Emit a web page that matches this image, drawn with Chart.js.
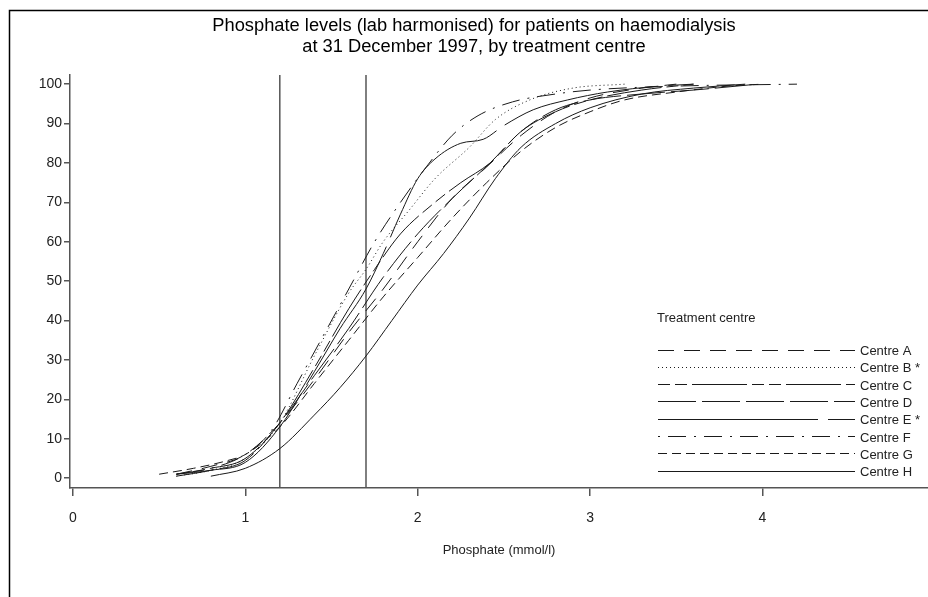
<!DOCTYPE html>
<html>
<head>
<meta charset="utf-8">
<title>Phosphate levels by treatment centre</title>
<script src="https://cdn.jsdelivr.net/npm/chart.js@4.4.0/dist/chart.umd.min.js"></script>
<style>
  html, body { margin: 0; padding: 0; background: #fff; }
  #wrap { width: 928px; height: 597px; position: relative; }
</style>
</head>
<body>
<div id="wrap"><canvas id="phosChart" width="928" height="597"></canvas></div>
<script>
// ---- data: phosphate (mmol/l) vs cumulative % of patients ----
const centreNames = ['Centre A', 'Centre B *', 'Centre C', 'Centre D', 'Centre E *', 'Centre F', 'Centre G', 'Centre H'];

const centreA_x = [0.6, 0.8, 1.0, 1.2, 1.4, 1.6, 1.8, 2.0, 2.2, 2.4, 2.6, 2.8, 3.0, 3.3, 3.5];
const centreA_y = [1, 3, 6, 14, 25, 37, 48, 60, 71, 79, 87, 93, 96.5, 99, 100];

const centreB_x = [0.6, 0.8, 1.0, 1.2, 1.4, 1.6, 1.7, 1.8, 1.95, 2.1, 2.3, 2.45, 2.65, 2.9, 3.2];
const centreB_y = [0.5, 2, 5, 14, 31, 47, 53, 60, 68, 76, 84, 91, 96, 99, 100];

const centreC_x = [0.6, 0.8, 1.0, 1.2, 1.4, 1.6, 1.75, 1.9, 2.1, 2.25, 2.42, 2.6, 2.8, 3.0, 3.3, 3.6];
const centreC_y = [1, 2.5, 5, 14, 28, 43, 53, 62, 70, 75, 80, 88, 93, 96, 98.5, 100];

const centreD_x = [0.6, 0.8, 1.0, 1.2, 1.4, 1.6, 1.8, 2.0, 2.2, 2.42, 2.6, 2.8, 3.0, 3.3, 3.6, 3.97];
const centreD_y = [0.5, 2, 4.5, 14, 26, 38, 51, 62, 71, 80, 88, 93.5, 96, 97.5, 98.5, 100];

const centreE_x = [0.6, 0.8, 1.0, 1.2, 1.4, 1.55, 1.7, 1.8, 1.9, 2.0, 2.1, 2.25, 2.38, 2.5, 2.67, 2.87, 3.1, 3.4, 3.6];
const centreE_y = [1, 2, 4, 13, 27, 38, 48, 57, 67, 76, 81, 85, 86, 89.5, 93.5, 96, 98, 99.5, 100];

const centreF_x = [0.6, 0.8, 1.0, 1.15, 1.3, 1.45, 1.6, 1.75, 1.9, 2.05, 2.2, 2.35, 2.55, 2.8, 3.0, 3.5, 4.2];
const centreF_y = [1, 2.5, 6, 12, 24, 36, 48, 60, 70, 79, 87, 92, 95.5, 97.5, 98.5, 99.5, 100];

const centreG_x = [0.5, 0.7, 0.9, 1.0, 1.2, 1.4, 1.6, 1.8, 2.0, 2.2, 2.4, 2.6, 2.8, 3.0, 3.2, 3.5, 3.8, 4.0];
const centreG_y = [1, 2.5, 4.5, 6, 13, 24, 35, 46, 56, 66, 75, 83, 89, 93, 96, 98, 99.5, 100];

const centreH_x = [0.8, 1.0, 1.2, 1.4, 1.55, 1.7, 1.85, 2.0, 2.15, 2.3, 2.45, 2.6, 2.8, 3.0, 3.3, 3.6, 3.9];
const centreH_y = [0.5, 2.5, 7.5, 16, 23, 31, 40, 49, 57, 66, 76, 84, 90, 94, 97.5, 99, 100];

// reference lines (mmol/l)
const refLines = [1.2, 1.7];

const xTicks = [0, 1, 2, 3, 4];
const yTicks = [0, 10, 20, 30, 40, 50, 60, 70, 80, 90, 100];

// line patterns for each centre
const dashes = [
  [16, 10],
  [1, 3],
  [12, 5, 12, 5, 55, 5],
  [38, 6],
  [160, 10],
  [2, 8, 18, 8],
  [9, 5],
  []
];

const allX = [centreA_x, centreB_x, centreC_x, centreD_x, centreE_x, centreF_x, centreG_x, centreH_x];
const allY = [centreA_y, centreB_y, centreC_y, centreD_y, centreE_y, centreF_y, centreG_y, centreH_y];

const X_MIN = -0.017, X_MAX = 4.96;
const Y_MIN = -2.5, Y_MAX = 102.3;

const fontFam = '"Liberation Sans", Arial, Helvetica, sans-serif';

function toPoints(xs, ys) {
  return xs.map((x, i) => ({ x: x, y: ys[i] }));
}

const datasets = centreNames.map((name, i) => ({
  label: name,
  data: toPoints(allX[i], allY[i]),
  borderColor: '#1a1a1a',
  borderWidth: 1,
  borderDash: dashes[i],
  pointRadius: 0,
  fill: false,
  cubicInterpolationMode: 'monotone'
}));

refLines.forEach(v => {
  datasets.push({
    label: 'ref',
    data: [{ x: v, y: Y_MIN }, { x: v, y: Y_MAX }],
    borderColor: '#555',
    borderWidth: 1.5,
    pointRadius: 0,
    fill: false
  });
});

// white page + thin frame (left and top edge)
const framePlugin = {
  id: 'frame',
  beforeDraw(chart) {
    const ctx = chart.ctx;
    ctx.save();
    ctx.fillStyle = '#fff';
    ctx.fillRect(0, 0, chart.width, chart.height);
    ctx.strokeStyle = '#000';
    ctx.lineWidth = 1.5;
    ctx.beginPath();
    ctx.moveTo(9.5, chart.height);
    ctx.lineTo(9.5, 10.5);
    ctx.lineTo(chart.width, 10.5);
    ctx.stroke();
    ctx.restore();
  }
};

// legend box in the lower right: "Treatment centre" with a line sample per centre
const centreLegend = {
  id: 'centreLegend',
  afterDraw(chart) {
    const ctx = chart.ctx;
    ctx.save();
    ctx.fillStyle = '#222';
    ctx.textBaseline = 'middle';
    ctx.font = '13px ' + fontFam;
    ctx.fillText('Treatment centre', 657, 318);
    for (let i = 0; i < centreNames.length; i++) {
      const ds = chart.data.datasets[i];
      const y = 349.5 + i * 17.3;
      ctx.strokeStyle = ds.borderColor;
      ctx.lineWidth = 1;
      ctx.setLineDash(ds.borderDash);
      ctx.beginPath();
      ctx.moveTo(658, Math.round(y) + 0.5);
      ctx.lineTo(855, Math.round(y) + 0.5);
      ctx.stroke();
      ctx.setLineDash([]);
      ctx.fillText(centreNames[i], 860, y + 2);
    }
    ctx.restore();
  }
};

const chart = new Chart(document.getElementById('phosChart'), {
  type: 'line',
  data: { datasets: datasets },
  plugins: [framePlugin, centreLegend],
  options: {
    responsive: false,
    animation: false,
    devicePixelRatio: 1,
    layout: { padding: { left: 20, right: 0, top: 0, bottom: 0 } },
    plugins: {
      legend: { display: false },
      tooltip: { enabled: false },
      title: {
        display: true,
        text: ['Phosphate levels (lab harmonised) for patients on haemodialysis',
               'at 31 December 1997, by treatment centre'],
        color: '#000',
        font: { family: fontFam, size: 18.3, weight: 'normal', lineHeight: 1.15 },
        padding: { top: 15, bottom: 18 }
      }
    },
    scales: {
      x: {
        type: 'linear',
        min: X_MIN,
        max: X_MAX,
        afterFit: s => { s.height = 109; },
        afterBuildTicks: s => { s.ticks = xTicks.map(v => ({ value: v })); },
        ticks: {
          color: '#222',
          font: { family: fontFam, size: 14 },
          padding: 14,
          maxRotation: 0
        },
        grid: { display: true, drawOnChartArea: false, drawTicks: true, tickLength: 8, color: '#555', lineWidth: 1.5 },
        border: { display: true, color: '#555', width: 1.5 },
        title: {
          display: true,
          text: 'Phosphate (mmol/l)',
          color: '#222',
          font: { family: fontFam, size: 13 },
          padding: { top: 0, bottom: 39 }
        }
      },
      y: {
        type: 'linear',
        min: Y_MIN,
        max: Y_MAX,
        afterFit: s => { s.width = 50; },
        afterBuildTicks: s => { s.ticks = yTicks.map(v => ({ value: v })); },
        ticks: {
          color: '#222',
          font: { family: fontFam, size: 14 },
          padding: 2
        },
        grid: { display: true, drawOnChartArea: false, drawTicks: true, tickLength: 6, color: '#555', lineWidth: 1.5 },
        border: { display: true, color: '#555', width: 1.5 }
      }
    }
  }
});
</script>
</body>
</html>
